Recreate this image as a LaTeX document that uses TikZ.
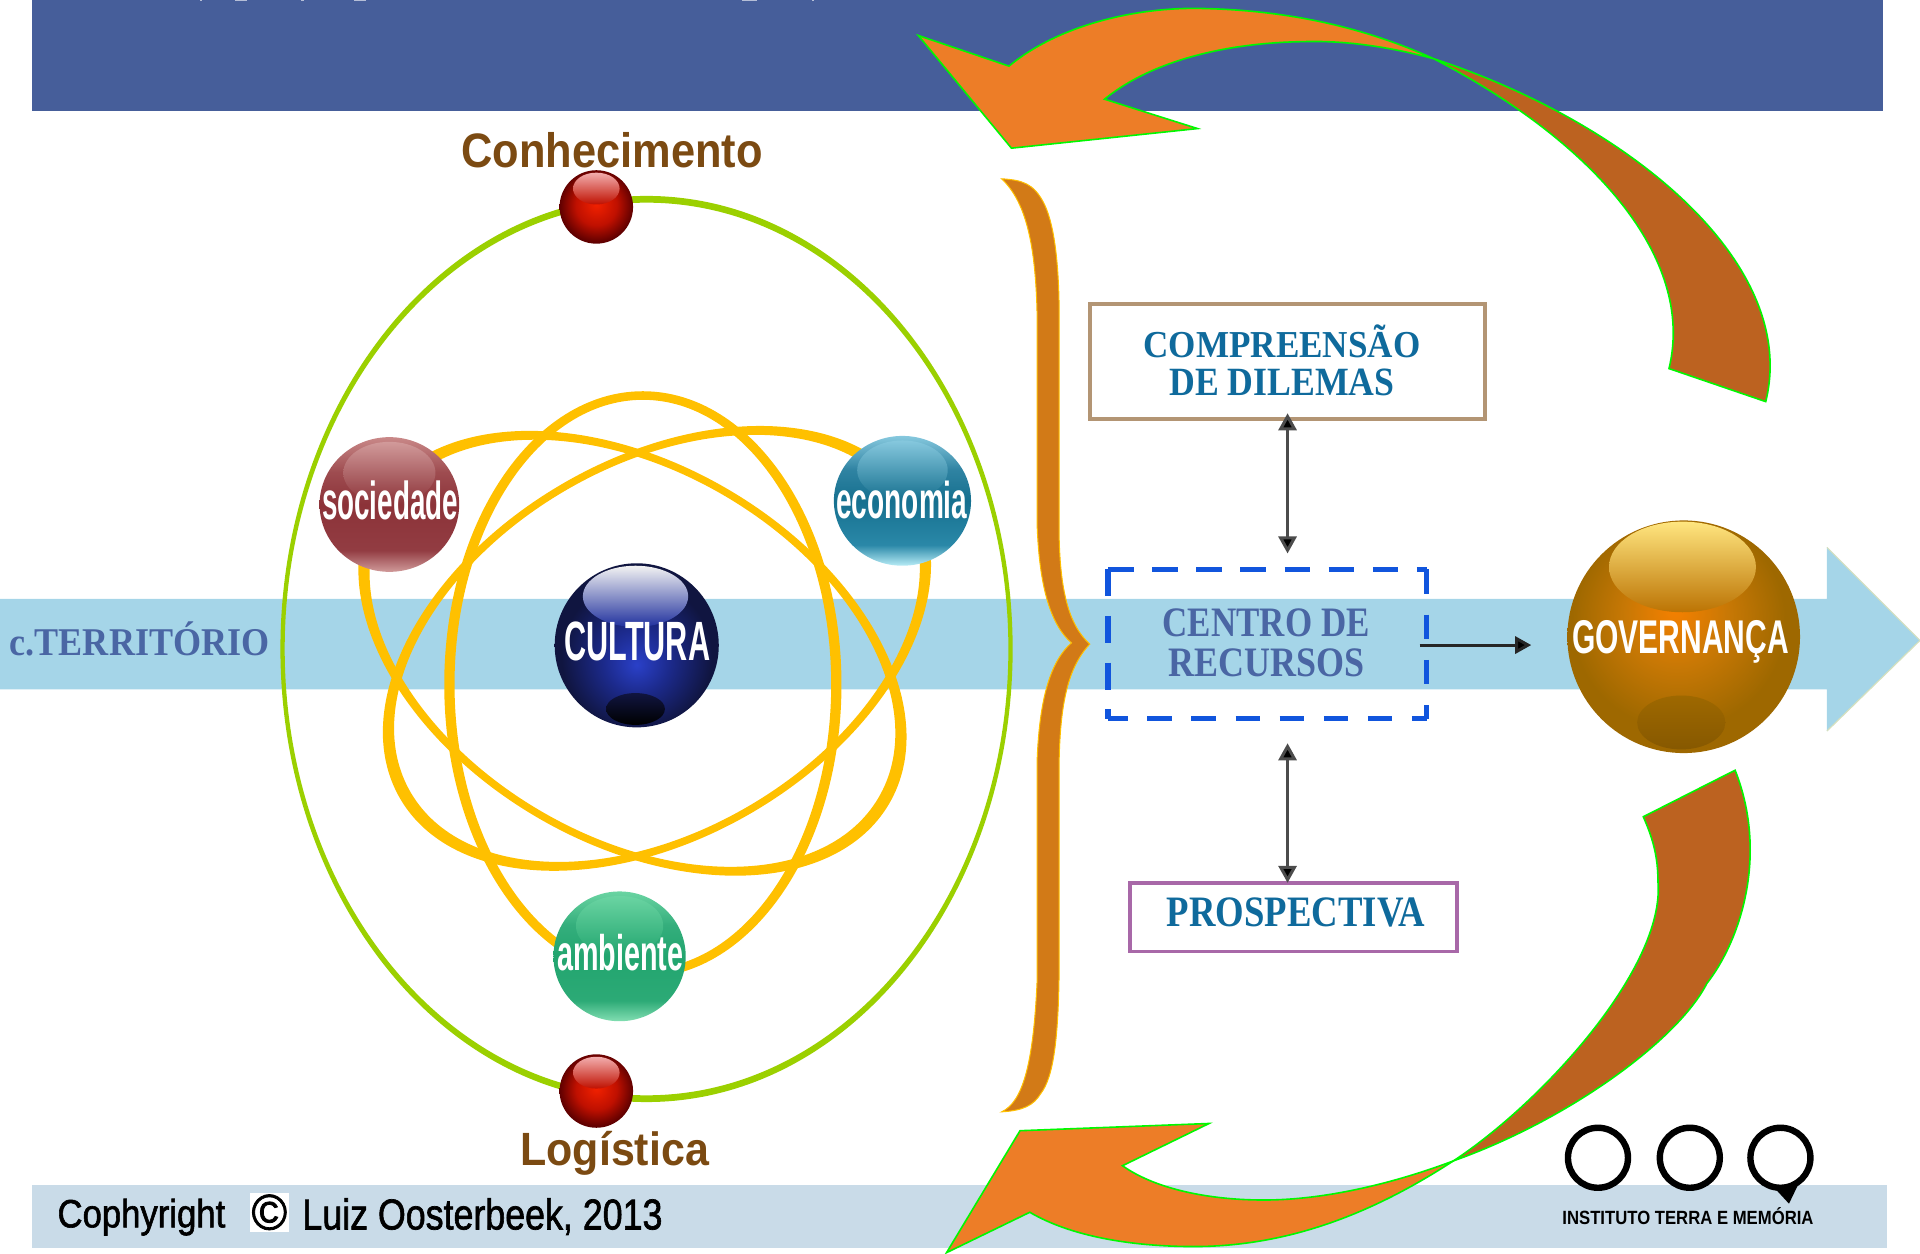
\documentclass[tikz,border=0pt]{standalone}
\usepackage{graphicx}
\usepackage{fontspec}
\setmainfont{Liberation Sans}
\newfontfamily\slab{Liberation Serif}
\newfontfamily\medf[FakeBold=1.6]{Liberation Sans}
\usetikzlibrary{arrows.meta}
\newlength\upx \setlength\upx{1.22449pt}
\newcommand{\T}[3]{\resizebox*{#1\upx}{#2\upx}{#3}}
\newcommand{\stk}[3]{\vbox{\offinterlineskip\halign{\hfil##\hfil\cr #1\cr\noalign{\kern #3\upx}#2\cr}}}
\definecolor{bandblue}{HTML}{465E9A}
\definecolor{flow}{HTML}{A5D5E8}
\definecolor{foot}{HTML}{C9DBE8}
\definecolor{orbitg}{HTML}{9BD000}
\definecolor{orbity}{HTML}{FFC000}
\definecolor{bracec}{HTML}{D27A17}
\definecolor{arrO}{HTML}{ED7D27}
\definecolor{arrB}{HTML}{BC6220}
\definecolor{neon}{HTML}{00F800}
\definecolor{brownt}{HTML}{7B4A12}
\definecolor{tealt}{HTML}{0F6A9C}
\definecolor{bluet}{HTML}{4A66A4}
\definecolor{cuA}{HTML}{2A40C8}
\definecolor{cuB}{HTML}{1C2A8C}
\definecolor{cuC}{HTML}{101540}
\definecolor{reA}{HTML}{F22100}
\definecolor{reB}{HTML}{BF1000}
\definecolor{reC}{HTML}{600000}
\definecolor{goA}{HTML}{F58000}
\definecolor{goB}{HTML}{C87805}
\definecolor{goC}{HTML}{9E6800}
\definecolor{soT}{HTML}{C98888}\definecolor{soU}{HTML}{9E4C50}\definecolor{soM}{HTML}{8C3339}\definecolor{soL}{HTML}{923C42}\definecolor{soB}{HTML}{D09A9A}
\definecolor{ecT}{HTML}{86C8DE}\definecolor{ecU}{HTML}{2F83A2}\definecolor{ecM}{HTML}{16708F}\definecolor{ecL}{HTML}{2A88A8}\definecolor{ecB}{HTML}{B8ECF6}
\definecolor{amT}{HTML}{6AD4A2}\definecolor{amU}{HTML}{34AE7C}\definecolor{amM}{HTML}{22A56F}\definecolor{amL}{HTML}{2CAA76}\definecolor{amB}{HTML}{82DEB2}
\pgfdeclareverticalshading{shSoc}{100bp}{color(0bp)=(soB);color(25bp)=(soB);color(33bp)=(soL);color(50bp)=(soM);color(62bp)=(soU);color(75bp)=(soT);color(100bp)=(soT)}
\pgfdeclareverticalshading{shEco}{100bp}{color(0bp)=(ecB);color(25bp)=(ecB);color(33bp)=(ecL);color(50bp)=(ecM);color(62bp)=(ecU);color(75bp)=(ecT);color(100bp)=(ecT)}
\pgfdeclareverticalshading{shAmb}{100bp}{color(0bp)=(amB);color(25bp)=(amB);color(33bp)=(amL);color(50bp)=(amM);color(62bp)=(amU);color(75bp)=(amT);color(100bp)=(amT)}
\pgfdeclareradialshading{shCult}{\pgfpoint{0bp}{-6bp}}{color(0bp)=(cuA);color(10bp)=(cuB);color(23bp)=(cuC);color(50bp)=(cuC)}
\pgfdeclareradialshading{shRed}{\pgfpoint{0bp}{2bp}}{color(0bp)=(reA);color(14bp)=(reB);color(25bp)=(reC);color(50bp)=(reC)}
\pgfdeclareradialshading{shGov}{\pgfpoint{-2bp}{6bp}}{color(0bp)=(goA);color(11bp)=(goB);color(23bp)=(goC);color(50bp)=(goC)}
\definecolor{dashb}{HTML}{1155DD}
\tikzset{
  x=1.22449pt,y=-1.22449pt,
  txt/.style={inner sep=0pt,outer sep=0pt},
  labw/.style={txt,text=white,font=\bfseries},
  labb/.style={txt,text=brownt,font=\bfseries},
  labt/.style={txt,text=tealt,font=\slab\bfseries},
  labc/.style={txt,text=bluet,font=\slab\bfseries},
  labk/.style={txt,text=black,font=\medf},
  frame/.style={draw,line width=3.6pt,inner sep=0pt,fill=white},
  tip/.style={-{Triangle[length=16pt,width=17pt,fill=black]}},
  tips/.style={{Triangle[length=17pt,width=18pt,fill=black]}-{Triangle[length=17pt,width=18pt,fill=black]}},
  conn/.style={line width=3pt,draw=black!70},
  edgeline/.style={draw=neon,line width=1.6pt,line join=miter,miter limit=10},
  dashside/.style={draw=dashb,line width=5.4pt},
  ringnode/.style={draw=black,line width=6.4pt,circle,minimum size=60pt,inner sep=0pt},
}
\newcommand{\gloss}[7]{%
  \shade[shading=#5] (#1,#2) ellipse [x radius=#3,y radius=#4];
  \shade[top color=#6,bottom color=#7] (#1,#2-#4*0.47) ellipse [x radius=#3*0.66,y radius=#4*0.46];
}
\newcommand{\orbit}[7]{%
  \begin{scope}[shift={(#1,#2)},rotate=#5]
    \fill[orbity,even odd rule] (0,0) ellipse [x radius=#3+#6,y radius=#4+#7] (0,0) ellipse [x radius=#3-#6,y radius=#4-#7];
  \end{scope}}
\begin{document}
\begin{tikzpicture}
\useasboundingbox (0,0) rectangle (1568,1023.3);
\clip (0,0) rectangle (1568,1023.3);
% bands
\fill[bandblue] (26,0) rectangle (1538,90.5);
\foreach \xa/\wa in {163/2,192/10,246/2,289/10,606/12,663/2}{\fill[white!60!bandblue] (\xa,0) rectangle (\xa+\wa,1.2);}
\fill[foot] (26,968) rectangle (1541,1019);
\fill[flow] (0,489) -- (1492,489) -- (1492,447) -- (1568,523) -- (1492,597) -- (1492,563) -- (0,563) -- cycle;
\draw[yellow!30!flow!70!white,line width=1.2pt] (1492,447) -- (1568,523) -- (1492,597);
% orbits
\fill[orbitg,even odd rule] (528,530) ellipse [x radius=299,y radius=370] (528,530) ellipse [x radius=295.5,y radius=364.5];
\orbit{525}{559}{158}{236}{0}{4.2}{3.5}
\orbit{516.5}{533.5}{238}{152}{-30.4}{5}{3}
\orbit{536.5}{529.5}{238}{152}{30.4}{5}{3}
% balls
\gloss{318}{412}{57}{55}{shSoc}{soT!85!white}{soM}
\gloss{737}{409}{56}{53}{shEco}{ecT}{ecM}
\gloss{506}{781}{54}{53}{shAmb}{amT}{amM}
\shade[shading=shCult] (520,527) ellipse [x radius=67,y radius=67];
\shade[top color=white!90!gray,bottom color=cuB!70!cuA] (519,487) ellipse [x radius=43,y radius=25];
\shade[top color=cuC,bottom color=black] (519,579) ellipse [x radius=24,y radius=13];
\foreach \yy in {169,891}{
  \shade[shading=shRed] (487,\yy) ellipse [x radius=30,y radius=30];
  \shade[top color=red!30!white!90!gray,bottom color=reB] (487,\yy-15) ellipse [x radius=19,y radius=13];
}
\shade[shading=shGov] (1375,520) ellipse [x radius=95,y radius=95];
\shade[top color=orange!40!yellow!50!white,bottom color=goB!70!goC] (1374,463) ellipse [x radius=60,y radius=37];
\shade[top color=goC,bottom color=goC!85!black] (1373,590) ellipse [x radius=36,y radius=22];
% ball labels
\node[labw] (soc) at (318.5,409) {\T{111}{32}{sociedade}};
\node[labw] (eco) at (736.5,408.5) {\T{107}{31}{economia}};
\node[labw] (cul) at (520.5,524) {\T{119}{32}{CULTURA}};
\node[labw] (amb) at (506.5,778) {\T{103}{30}{ambiente}};
\node[labw] (gov) at (1372.5,524.5) {\T{177}{35}{GOVERNANÇA}};
\node[labb] (con) at (500,122.5) {\T{246}{29}{Conhecimento}};
\node[labb] (log) at (502,942) {\T{154}{36}{Logística}};
\node[labc] (ter) at (114,521.5) {\T{212}{28}{c.TERRITÓRIO}};
% brace
\fill[bracec,draw=orbity,line width=1pt] (818,146) .. controls (835,147) and (844,150) .. (852,165) .. controls (860,180) and (865,210) .. (865,260) -- (865,440) .. controls (866,480) and (872,510) .. (890,526) .. controls (872,545) and (866,575) .. (865,620) -- (865,780) .. controls (865,850) and (860,880) .. (850,893) .. controls (844,903) and (835,907) .. (818,908) .. controls (835,900) and (844,870) .. (847,800) -- (847,620) .. controls (849,570) and (858,540) .. (875,525) .. controls (858,510) and (849,480) .. (847,430) -- (847,260) .. controls (846,200) and (838,165) .. (818,146) -- cycle;
% boxes
\definecolor{tanb}{HTML}{B39574}
\definecolor{purb}{HTML}{A868A8}
\node[frame,draw=tanb,minimum width=395pt,minimum height=115pt] (comp) at (1051.5,295) {};
\node[labt] (comp1) at (1047,294) {\stk{\T{226}{27}{COMPREENSÃO}}{\T{184}{22}{DE DILEMAS}}{9}};
\node[inner sep=0pt,minimum width=318pt,minimum height=149pt] (cen) at (1035,526) {};
\draw[dashside,dash pattern=on 25.7pt off 18.4pt] (cen.north west) -- (cen.north east);
\draw[dashside,dash pattern=on 24.5pt off 20.8pt] (cen.north east) -- (cen.south east);
\draw[dashside,dash pattern=on 24.5pt off 19.6pt,dash phase=4.9pt] (cen.south west) -- (cen.south east);
\draw[dashside,dash pattern=on 27pt off 19.6pt] (cen.north west) -- (cen.south west);
\node[labc] (cen1) at (1034,525) {\stk{\T{169}{23}{CENTRO DE}}{\T{160}{23}{RECURSOS}}{9}};
\node[frame,draw=purb,minimum width=327pt,minimum height=68.5pt] (pro) at (1056.5,749) {};
\node[labt] (pro1) at (1058.5,745) {\T{211}{24}{PROSPECTIVA}};
% connectors
\coordinate (u1) at (1051.5,337.5);
\coordinate (u2) at (1051.5,452);
\coordinate (l1) at (1051.5,607);
\coordinate (l2) at (1051.5,721);
\coordinate (r2) at (1250.5,526.8);
\draw[tips,conn] (u1) -- (u2);
\draw[tips,conn] (l1) -- (l2);
\draw[tip,conn,draw=black!85,shorten <=-7pt] (cen.east |- r2) -- (r2);
% top curved arrow
\path[fill=arrB,edgeline] (1171,48) .. controls (1330,100) and (1470,215) .. (1442,328) -- (1363,301) .. controls (1385,210) and (1300,115) .. (1171,48) -- cycle;
\path[fill=arrO,edgeline] (750,29) -- (824,54) .. controls (865,20) and (930,5) .. (985,7) .. controls (1060,9) and (1120,25) .. (1171,48) .. controls (1130,37) and (1095,33) .. (1064,34) .. controls (1000,35) and (940,50) .. (902,81) -- (978,105) -- (826,121) -- cycle;
% bottom curved arrow
\path[fill=arrB,edgeline] (1417,629) .. controls (1445,700) and (1420,770) .. (1394,803) .. controls (1370,850) and (1280,915) .. (1187,948) .. controls (1260,900) and (1360,790) .. (1354,720) .. controls (1354,700) and (1350,685) .. (1342,667) -- cycle;
\path[fill=arrO,edgeline] (1187,948) .. controls (1130,985) and (1060,1018) .. (975,1018) .. controls (925,1018) and (875,1010) .. (841,990) -- (773,1023) -- (833,923.4) -- (987.4,917.5) -- (916.7,952) .. controls (945,972) and (990,980) .. (1032,980) .. controls (1090,980) and (1150,962) .. (1187,948) -- cycle;
% footer text
\node[labk] (cop) at (115.5,994) {\T{137}{30}{Cophyright}};
\node[fill=white,inner sep=0pt,minimum width=39pt,minimum height=39pt] (sq) at (220,990) {};
\node[labk] (cc) at (sq.center) {\T{29}{29}{©}};
\node[labk] (luiz) at (394,993.5) {\T{294}{30}{Luiz Oosterbeek, 2013}};
% logo
\node[ringnode] (r1) at (1305,945.5) {};
\node[ringnode] (r2b) at (1380,945.5) {};
\node[ringnode] (r3) at (1454,945.5) {};
\fill[black] (1449,970) -- (1461,983) -- (1473,958) -- (1468,966) -- cycle;
\node[txt,font=\bfseries] (inst) at (1378.5,993) {\T{205}{14}{INSTITUTO TERRA E MEMÓRIA}};
\end{tikzpicture}
\end{document}
